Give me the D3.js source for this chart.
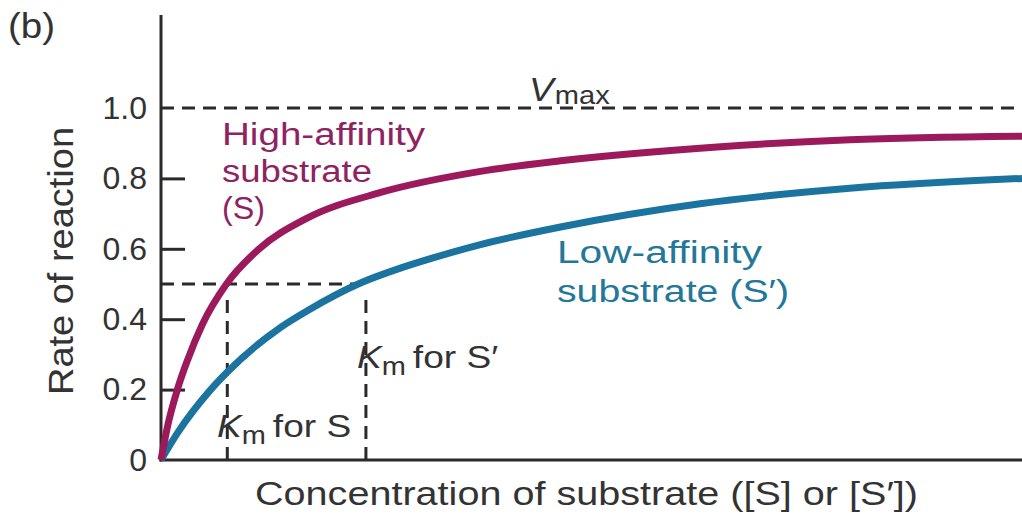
<!DOCTYPE html>
<html>
<head>
<meta charset="utf-8">
<title>Michaelis-Menten curves</title>
<script src="https://cdn.jsdelivr.net/npm/d3@7"></script>
<style>
  body { margin: 0; background: #fff; }
  svg text { font-family: "Liberation Sans", Arial, sans-serif; }
</style>
</head>
<body>
<script>
  // values (concentration in arbitrary units, 0..100)
  var highX = [0, 0.8, 1.9, 3.1, 4.8, 7.6, 11.4, 16.8, 25.5, 37.1, 46.4, 65, 80, 100];
  var highY = [0, 0.1, 0.2, 0.285, 0.385, 0.5, 0.6, 0.685, 0.76, 0.82, 0.85, 0.89, 0.91, 0.92];
  var lowX = [0, 2.0, 5.6, 7.7, 13.9, 17.2, 22.9, 27.8, 31.3, 37.1, 46.4, 62.6, 80, 100];
  var lowY = [0, 0.08, 0.195, 0.25, 0.377, 0.427, 0.5, 0.545, 0.572, 0.612, 0.662, 0.728, 0.772, 0.8];
  var yTicks = [0, 0.2, 0.4, 0.6, 0.8, 1.0];
  var yTickLabels = ["0", "0.2", "0.4", "0.6", "0.8", "1.0"];
  var vmax = 1.0, half = 0.5;
  var kmS = 7.7, kmS2 = 23.8, halfLow = 22.9;

  var width = 1022, height = 516,
      x = d3.scaleLinear().domain([0, 100]).range([161, 1022]),
      y = d3.scaleLinear().domain([0, 1]).range([460, 108]);

  var purple = "#9c1a5c", teal = "#1b74a0", ink = "#2a2a2a";

  var svg = d3.select("body").append("svg")
      .attr("width", width)
      .attr("height", height);

  // dashed guides
  var dash = "13 8";
  svg.append("line")
      .attr("x1", x(0)).attr("x2", x(100))
      .attr("y1", y(vmax)).attr("y2", y(vmax))
      .attr("stroke", ink).attr("stroke-width", 3).attr("stroke-dasharray", dash);
  svg.append("line")
      .attr("x1", x(0)).attr("x2", x(halfLow))
      .attr("y1", y(half)).attr("y2", y(half))
      .attr("stroke", ink).attr("stroke-width", 3).attr("stroke-dasharray", dash);
  [kmS, kmS2].forEach(function(k){
      svg.append("line")
          .attr("x1", x(k)).attr("x2", x(k))
          .attr("y1", y(0)).attr("y2", y(0.465))
          .attr("stroke", ink).attr("stroke-width", 3).attr("stroke-dasharray", dash);
  });

  // axes
  var yAxis = d3.axisLeft(y)
      .tickValues(yTicks)
      .tickFormat(function(d, i){ return yTickLabels[i]; })
      .tickSize(-24)
      .tickPadding(14);

  var gy = svg.append("g")
      .attr("transform", "translate(" + x(0) + ",0)")
      .call(yAxis);
  gy.select(".domain").remove();
  gy.selectAll(".tick line")
      .attr("stroke", ink).attr("stroke-width", 3)
      .attr("display", function(d){ return (d === 0 || d === 1) ? "none" : null; });
  gy.selectAll(".tick text")
      .attr("fill", "#333").attr("font-size", 32)
      .attr("font-family", "Liberation Sans, Arial, sans-serif");

  svg.append("line")
      .attr("x1", x(0)).attr("x2", x(0))
      .attr("y1", 15).attr("y2", y(0) + 1.5)
      .attr("stroke", ink).attr("stroke-width", 3);
  svg.append("line")
      .attr("x1", x(0) - 1.5).attr("x2", x(100))
      .attr("y1", y(0)).attr("y2", y(0))
      .attr("stroke", ink).attr("stroke-width", 3);

  // curves
  var line = d3.line()
      .x(function(d){ return x(d[0]); })
      .y(function(d){ return y(d[1]); })
      .curve(d3.curveMonotoneX);

  svg.append("path")
      .datum(lowX.map(function(v, i){ return [v, lowY[i]]; }))
      .attr("d", line)
      .attr("fill", "none").attr("stroke", teal).attr("stroke-width", 7);
  svg.append("path")
      .datum(highX.map(function(v, i){ return [v, highY[i]]; }))
      .attr("d", line)
      .attr("fill", "none").attr("stroke", purple).attr("stroke-width", 7);

  // labels
  svg.append("text")
      .attr("transform", "translate(8,38) scale(1.1,1)")
      .attr("font-size", 35).attr("fill", "#333").text("(b)");

  svg.append("text")
      .attr("transform", "translate(73,261) rotate(-90)")
      .attr("text-anchor", "middle")
      .attr("font-size", 35).attr("fill", "#333")
      .attr("textLength", 268).attr("lengthAdjust", "spacingAndGlyphs")
      .text("Rate of reaction");

  svg.append("text")
      .attr("x", 255).attr("y", 505)
      .attr("font-size", 33).attr("fill", "#333")
      .attr("textLength", 663).attr("lengthAdjust", "spacingAndGlyphs")
      .text("Concentration of substrate ([S] or [S\u2032])");

  var vm = svg.append("text")
      .attr("transform", "translate(529,101) scale(1.12,1)")
      .attr("font-size", 33).attr("fill", "#333");
  vm.append("tspan").attr("font-style", "italic").text("V");
  vm.append("tspan").attr("font-size", 26).attr("dy", 3).attr("dx", 1).text("max");

  var high = ["High-affinity", "substrate", "(S)"],
      highW = [203, 150, 43];
  high.forEach(function(t, i){
      svg.append("text").attr("x", 222).attr("y", 145 + i * 37)
          .attr("font-size", 31).attr("fill", "#8d2461")
          .attr("textLength", highW[i]).attr("lengthAdjust", "spacingAndGlyphs")
          .text(t);
  });

  var low = ["Low-affinity", "substrate (S\u2032)"],
      lowW = [205, 232];
  low.forEach(function(t, i){
      svg.append("text").attr("x", 557).attr("y", 263 + i * 39)
          .attr("font-size", 31).attr("fill", "#237798")
          .attr("textLength", lowW[i]).attr("lengthAdjust", "spacingAndGlyphs")
          .text(t);
  });

  function kmLabel(px, py, rest){
      var t = svg.append("text")
          .attr("transform", "translate(" + px + "," + py + ") scale(1.16,1)")
          .attr("font-size", 32).attr("fill", "#333");
      t.append("tspan").attr("font-style", "italic").text("K");
      t.append("tspan").attr("font-size", 25).attr("dy", 7).text("m");
      t.append("tspan").attr("dy", -7).attr("dx", 6).text(rest);
  }
  kmLabel(217, 437, "for S");
  kmLabel(357, 368, "for S\u2032");
</script>
</body>
</html>
